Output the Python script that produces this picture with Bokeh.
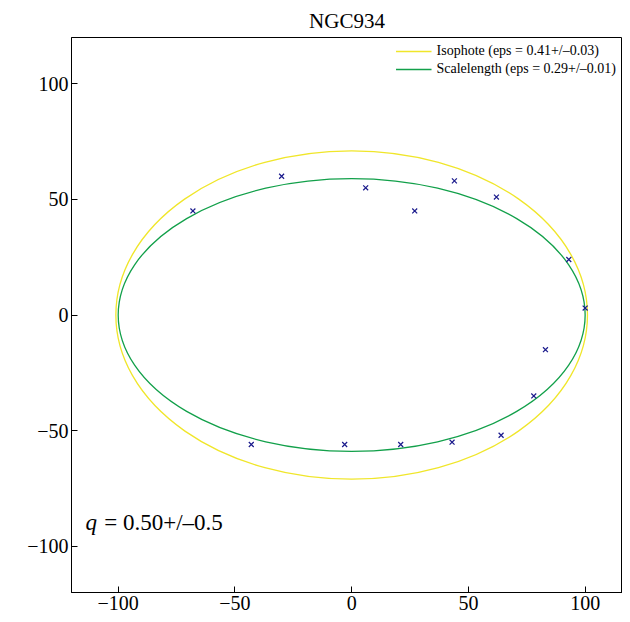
from bokeh.plotting import figure
from bokeh.models import Label, Range1d, Legend, LegendItem
from bokeh.embed import file_html
from bokeh.resources import INLINE

px = [-68, -30, 6, 27, 44, 62, 93, 100, 83, 78, 64, 43, 21, -3, -43]
py = [45, 60, 55, 45, 58, 51, 24, 3, -15, -35, -52, -55, -56, -56, -56]

iso_a, iso_b = 101, 71
scl_a, scl_b = 100, 59

FONT = "Liberation Serif"

p = figure(width=622, height=612, output_backend="svg", toolbar_location=None,
           x_range=Range1d(-120, 116), y_range=Range1d(-120, 120),
           min_border_left=71, min_border_right=0, min_border_top=37, min_border_bottom=0,
           title="NGC934")
p.title.align = "center"
p.title.text_font = FONT
p.title.text_font_size = "21px"
p.title.text_font_style = "normal"
p.title.text_color = "black"
p.grid.visible = False
p.outline_line_color = "black"

for ax in (p.xaxis, p.yaxis):
    ax.major_label_text_font = FONT
    ax.major_label_text_font_size = "20px"
    ax.major_label_text_color = "black"
    ax.major_tick_in = 6
    ax.major_tick_out = 0
    ax.minor_tick_line_color = None
    ax.axis_line_color = "black"
    ax.major_label_standoff = 3
p.xaxis.ticker = [-100, -50, 0, 50, 100]
p.yaxis.ticker = [-100, -50, 0, 50, 100]

p.ellipse(x=[0], y=[0], width=[2 * iso_a], height=[2 * iso_b],
          fill_color=None, line_color="#f0e62a", line_width=1.3)
p.ellipse(x=[0], y=[0], width=[2 * scl_a], height=[2 * scl_b],
          fill_color=None, line_color="#12a04a", line_width=1.3)
p.scatter(px, py, marker="x", size=7, line_color="#1a1a8c", line_width=1.2)

l1 = p.line([1000, 1001], [1000, 1001], line_color="#f0e62a", line_width=1.3)
l2 = p.line([1000, 1001], [1000, 1001], line_color="#12a04a", line_width=1.3)
legend = Legend(items=[
    LegendItem(label="Isophote (eps = 0.41+/\u20130.03)", renderers=[l1]),
    LegendItem(label="Scalelength (eps = 0.29+/\u20130.01)", renderers=[l2]),
], location="top_right", label_text_font=FONT, label_text_font_size="14px",
    label_text_color="black",
    background_fill_alpha=0, border_line_color=None, glyph_width=36,
    spacing=2, padding=4, margin=6, label_height=16, glyph_height=16)
p.add_layout(legend)

p.add_layout(Label(x=-114, y=-95, text="q", text_font=FONT, text_font_size="23px",
                   text_font_style="italic", text_color="black"))
p.add_layout(Label(x=-106, y=-95, text="= 0.50+/\u20130.5", text_font=FONT,
                   text_font_size="23px", text_color="black"))

open("out.html", "w").write(file_html(p, INLINE))
